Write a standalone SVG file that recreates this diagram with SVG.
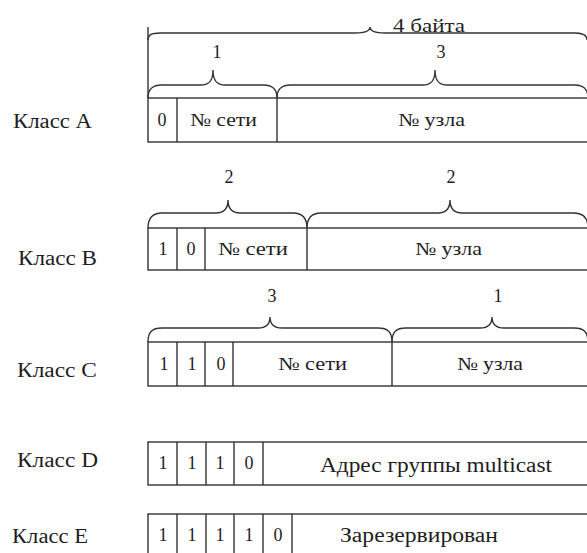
<svg xmlns="http://www.w3.org/2000/svg" width="587" height="553" viewBox="0 0 587 553">
  <style>
    .ln { fill: none; stroke: #333333; stroke-width: 1.4; }
  </style>
  <rect width="587" height="553" fill="#ffffff"/>

  <g font-family="Liberation Serif, Times New Roman, serif" fill="#1e1e1e">
  <!-- byte-count braces -->
  <g id="connectors">
    <line class="ln" x1="148" y1="27" x2="148" y2="98"/>
    <path class="ln" d="M148 40 C148 35 151 33 160 33 L355 33 C365 33 370 31 370 27 C370 31 375 33 385 33 L575 33 C583 33 587 36 587 40"/>
    <path class="ln" d="M148 98 C148 89 152 85 162 85 L201 85 C209 85 213 81 213 70 C213 81 217 85 225 85 L263 85 C273 85 277 89 277 98"/>
    <path class="ln" d="M277 98 C277 89 281 85 291 85 L423 85 C431 85 435 81 435 70 C435 81 439 85 447 85 L574 85 C584 85 588 89 588 98"/>
    <path class="ln" d="M148 228 C148 218 152 213 162 213 L216 213 C224 213 228 209 228 200 C228 209 232 213 240 213 L293 213 C303 213 307 218 307 228"/>
    <path class="ln" d="M307 228 C307 218 311 213 321 213 L438 213 C446 213 450 209 450 200 C450 209 454 213 462 213 L574 213 C584 213 588 218 588 228"/>
    <path class="ln" d="M148 342 C148 332 152 328 162 328 L258 328 C266 328 270 324 270 317 C270 324 274 328 282 328 L378 328 C388 328 392 332 392 342"/>
    <path class="ln" d="M392 342 C392 332 396 328 406 328 L480 328 C488 328 492 324 492 317 C492 324 496 328 504 328 L574 328 C584 328 588 332 588 342"/>
    <text x="393" y="32" font-size="19" textLength="72" lengthAdjust="spacingAndGlyphs">4 байта</text>
    <g font-size="18" text-anchor="middle">
      <text x="217" y="58">1</text>
      <text x="441" y="58">3</text>
      <text x="229" y="183">2</text>
      <text x="451" y="183">2</text>
      <text x="272" y="302">3</text>
      <text x="498" y="302">1</text>
    </g>
  </g>

  <!-- class A -->
  <g id="classA" font-size="18">
    <text x="13" y="128" font-size="20" textLength="79" lengthAdjust="spacingAndGlyphs">Класс A</text>
    <rect class="ln" x="148" y="98" width="460" height="44"/>
    <line class="ln" x1="177" y1="98" x2="177" y2="142"/>
    <line class="ln" x1="277" y1="98" x2="277" y2="142"/>
    <text x="162" y="126" text-anchor="middle">0</text>
    <text x="190" y="126" textLength="67" lengthAdjust="spacingAndGlyphs">№ сети</text>
    <text x="398" y="126" textLength="67" lengthAdjust="spacingAndGlyphs">№ узла</text>
  </g>

  <!-- class B -->
  <g id="classB" font-size="18">
    <text x="18" y="265" font-size="20" textLength="79" lengthAdjust="spacingAndGlyphs">Класс B</text>
    <rect class="ln" x="148" y="228" width="460" height="42"/>
    <line class="ln" x1="177" y1="228" x2="177" y2="270"/>
    <line class="ln" x1="205" y1="228" x2="205" y2="270"/>
    <line class="ln" x1="307" y1="228" x2="307" y2="270"/>
    <text x="163" y="255" text-anchor="middle">1</text>
    <text x="191" y="255" text-anchor="middle">0</text>
    <text x="218" y="255" textLength="70" lengthAdjust="spacingAndGlyphs">№ сети</text>
    <text x="415" y="255" textLength="67" lengthAdjust="spacingAndGlyphs">№ узла</text>
  </g>

  <!-- class C -->
  <g id="classC" font-size="18">
    <text x="17" y="377" font-size="20" textLength="80" lengthAdjust="spacingAndGlyphs">Класс C</text>
    <rect class="ln" x="148" y="342" width="460" height="44"/>
    <line class="ln" x1="177" y1="342" x2="177" y2="386"/>
    <line class="ln" x1="205" y1="342" x2="205" y2="386"/>
    <line class="ln" x1="233" y1="342" x2="233" y2="386"/>
    <line class="ln" x1="392" y1="342" x2="392" y2="386"/>
    <text x="164" y="370" text-anchor="middle">1</text>
    <text x="192" y="370" text-anchor="middle">1</text>
    <text x="221" y="370" text-anchor="middle">0</text>
    <text x="278" y="370" textLength="69" lengthAdjust="spacingAndGlyphs">№ сети</text>
    <text x="457" y="370" textLength="66" lengthAdjust="spacingAndGlyphs">№ узла</text>
  </g>

  <!-- class D -->
  <g id="classD" font-size="18">
    <text x="17" y="467" font-size="20" textLength="81" lengthAdjust="spacingAndGlyphs">Класс D</text>
    <rect class="ln" x="148" y="442" width="460" height="43"/>
    <line class="ln" x1="177" y1="442" x2="177" y2="485"/>
    <line class="ln" x1="206" y1="442" x2="206" y2="485"/>
    <line class="ln" x1="234" y1="442" x2="234" y2="485"/>
    <line class="ln" x1="263" y1="442" x2="263" y2="485"/>
    <text x="163" y="469" text-anchor="middle">1</text>
    <text x="192" y="469" text-anchor="middle">1</text>
    <text x="220" y="469" text-anchor="middle">1</text>
    <text x="249" y="469" text-anchor="middle">0</text>
    <text x="320" y="472" font-size="20" textLength="232" lengthAdjust="spacingAndGlyphs">Адрес группы multicast</text>
  </g>

  <!-- class E -->
  <g id="classE" font-size="18">
    <text x="12" y="543" font-size="20" textLength="76" lengthAdjust="spacingAndGlyphs">Класс E</text>
    <rect class="ln" x="148" y="514" width="460" height="60"/>
    <line class="ln" x1="177" y1="514" x2="177" y2="560"/>
    <line class="ln" x1="206" y1="514" x2="206" y2="560"/>
    <line class="ln" x1="234" y1="514" x2="234" y2="560"/>
    <line class="ln" x1="263" y1="514" x2="263" y2="560"/>
    <line class="ln" x1="292" y1="514" x2="292" y2="560"/>
    <text x="163" y="541" text-anchor="middle">1</text>
    <text x="192" y="541" text-anchor="middle">1</text>
    <text x="220" y="541" text-anchor="middle">1</text>
    <text x="249" y="541" text-anchor="middle">1</text>
    <text x="278" y="541" text-anchor="middle">0</text>
    <text x="340" y="542" font-size="20" textLength="158" lengthAdjust="spacingAndGlyphs">Зарезервирован</text>
  </g>
  </g>
</svg>
